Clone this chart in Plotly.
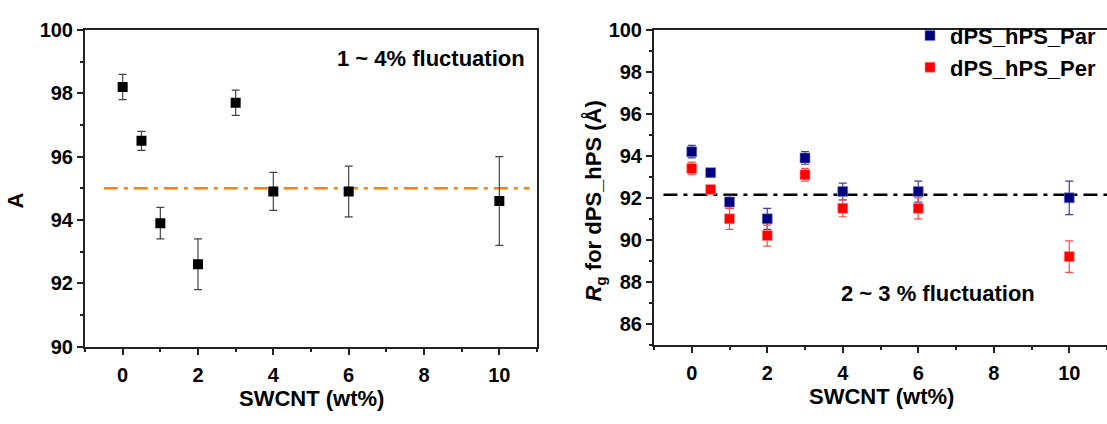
import plotly.graph_objects as go

# ---------------- data ----------------
swcnt = [0, 0.5, 1, 2, 3, 4, 6, 10]

A_vals = [98.2, 96.5, 93.9, 92.6, 97.7, 94.9, 94.9, 94.6]
A_err = [0.4, 0.3, 0.5, 0.8, 0.4, 0.6, 0.8, 1.4]

par_vals = [94.2, 93.2, 91.8, 91.0, 93.9, 92.3, 92.3, 92.0]
par_err = [0.3, 0.1, 0.3, 0.5, 0.3, 0.4, 0.5, 0.8]

per_vals = [93.4, 92.4, 91.0, 90.2, 93.1, 91.5, 91.5, 89.2]
per_err = [0.3, 0.1, 0.5, 0.5, 0.3, 0.4, 0.5, 0.75]

A_ref_x = [-0.5, 10.8]
A_ref_y = [95, 95]
Rg_ref_x = [-0.75, 11]
Rg_ref_y = [92.15, 92.15]

W, H = 1107, 424
FONT = "Liberation Sans, Arial, sans-serif"


def px(x):
    return x / W


def py(y):
    return 1 - y / H


fig = go.Figure()

# left panel
fig.add_trace(go.Scatter(
    x=A_ref_x, y=A_ref_y, mode="lines", xaxis="x", yaxis="y",
    line=dict(color="#FF7F0E", width=2.5, dash="14px,6px,4px,6px"),
    showlegend=False, hoverinfo="skip"))
fig.add_trace(go.Scatter(
    x=swcnt, y=A_vals, mode="markers", xaxis="x", yaxis="y",
    marker=dict(symbol="square", size=10, color="black"),
    error_y=dict(type="data", array=A_err, color="#444", thickness=1.2, width=4),
    showlegend=False))

# right panel
fig.add_trace(go.Scatter(
    x=Rg_ref_x, y=Rg_ref_y, mode="lines", xaxis="x2", yaxis="y2",
    line=dict(color="black", width=2.5, dash="14px,6px,4px,6px"),
    showlegend=False, hoverinfo="skip"))
fig.add_trace(go.Scatter(
    x=swcnt, y=par_vals, mode="markers", xaxis="x2", yaxis="y2",
    name="dPS_hPS_Par",
    marker=dict(symbol="square", size=10, color="#000080",
                line=dict(color="#8080c0", width=0.6)),
    error_y=dict(type="data", array=par_err, color="#3c3ca8", thickness=1.2, width=4)))
fig.add_trace(go.Scatter(
    x=swcnt, y=per_vals, mode="markers", xaxis="x2", yaxis="y2",
    name="dPS_hPS_Per",
    marker=dict(symbol="square", size=10, color="#FF0000",
                line=dict(color="#ff9090", width=0.6)),
    error_y=dict(type="data", array=per_err, color="#ff4a4a", thickness=1.2, width=4)))

tickfont = dict(family=FONT, size=20, color="black", weight="bold")
axis_common = dict(
    showline=True, linecolor="#222", linewidth=2,
    ticks="outside", ticklen=6, tickwidth=2, tickcolor="#222",
    showgrid=False, zeroline=False, tickfont=tickfont,
)
minor = dict(ticks="outside", dtick=1, tick0=0, ticklen=3, tickwidth=1.5, tickcolor="#222")

fig.update_layout(
    width=W, height=H,
    margin=dict(l=0, r=0, t=0, b=0),
    paper_bgcolor="white", plot_bgcolor="white",
    xaxis=dict(domain=[px(85), px(537)], range=[-1, 11], dtick=2, tick0=0,
               anchor="y", mirror=True, minor=minor, ticklabelstandoff=3,
               **axis_common),
    yaxis=dict(domain=[py(354), py(20)], range=[90, 100], dtick=2, tick0=0,
               anchor="x", mirror=True, minor=minor,
               **axis_common),
    xaxis2=dict(domain=[px(654), 1.0], range=[-1, 11], dtick=2, tick0=0,
                anchor="y2", mirror=True, minor=minor, ticklabelstandoff=3,
                **axis_common),
    yaxis2=dict(domain=[py(352), py(20)], range=[85, 100], dtick=2, tick0=0,
                anchor="x2", mirror=False, minor=minor,
                **axis_common),
    legend=dict(x=px(910), y=py(4), xanchor="left", yanchor="top",
                bgcolor="rgba(0,0,0,0)", borderwidth=0,
                font=dict(family=FONT, size=22, color="black", weight="bold"),
                itemsizing="trace", tracegroupgap=0),
    showlegend=True,
)

title_font = dict(family=FONT, size=22, color="black", weight="bold")
annotations = [
    dict(text="1 ~ 4% fluctuation", x=px(431), y=py(50)),
    dict(text="2 ~ 3 % fluctuation", x=px(938), y=py(298)),
    dict(text="SWCNT (wt%)", x=px(311), y=py(409)),
    dict(text="SWCNT (wt%)", x=px(881), y=py(407)),
    dict(text="A", x=px(16), y=py(200), textangle=-90),
    dict(text="<i>R</i><sub>g</sub> for dPS_hPS (Å)", x=px(595), y=py(201), textangle=-90),
]
for a in annotations:
    fig.add_annotation(xref="paper", yref="paper", showarrow=False,
                       xanchor="center", yanchor="middle", font=title_font, **a)

fig.write_html("out.html")
